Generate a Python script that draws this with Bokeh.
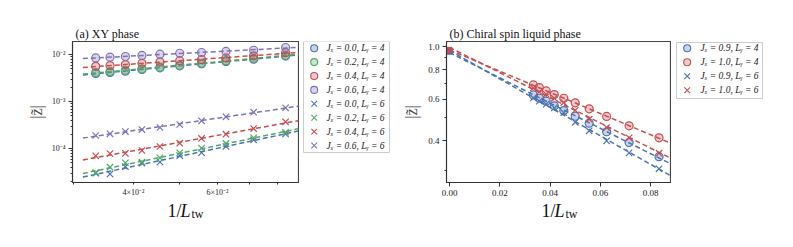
import numpy as np
from bokeh.plotting import figure
from bokeh.models import (Range1d, FixedTicker, CustomJSTickFormatter, NumeralTickFormatter, Label)
from bokeh.core.properties import value
from bokeh.layouts import row, column
from bokeh.embed import file_html
from bokeh.resources import INLINE

# ---------------- data ----------------
L_tw = [30, 28, 26, 24, 22, 20, 18, 16, 14, 12]

# panel (a): XY phase
a_labels = ["Jₓ = 0.0, Lᵧ = 4", "Jₓ = 0.2, Lᵧ = 4", "Jₓ = 0.4, Lᵧ = 4", "Jₓ = 0.6, Lᵧ = 4",
            "Jₓ = 0.0, Lᵧ = 6", "Jₓ = 0.2, Lᵧ = 6", "Jₓ = 0.4, Lᵧ = 6", "Jₓ = 0.6, Lᵧ = 6"]
a_J00_L4 = [0.0040, 0.0042, 0.00448, 0.00487, 0.00528, 0.00583, 0.00644, 0.00720, 0.00805, 0.0094]
a_J02_L4 = [0.0042, 0.0044, 0.0047, 0.0050, 0.00545, 0.0060, 0.0066, 0.0075, 0.0084, 0.0097]
a_J04_L4 = [0.0057, 0.0059, 0.0062, 0.0066, 0.0070, 0.0075, 0.0079, 0.0086, 0.0095, 0.0111]
a_J06_L4 = [0.0086, 0.0089, 0.0092, 0.0097, 0.0103, 0.0108, 0.0112, 0.0118, 0.0125, 0.0143]
a_J00_L6 = [3.03e-5, 2.91e-5, 4.2e-5, 4.94e-5, 5.24e-5, 7.2e-5, 8.3e-5, 1.12e-4, 1.55e-4, 2.07e-4]
a_J02_L6 = [3.13e-5, 4.06e-5, 5.04e-5, 5.19e-5, 6.44e-5, 8.23e-5, 1.03e-4, 1.30e-4, 1.71e-4, 2.25e-4]
a_J04_L6 = [7.1e-5, 7.9e-5, 8.0e-5, 9.2e-5, 1.12e-4, 1.32e-4, 1.66e-4, 2.05e-4, 2.70e-4, 3.75e-4]
a_J06_L6 = [1.92e-4, 2.08e-4, 2.33e-4, 2.57e-4, 2.84e-4, 3.29e-4, 3.94e-4, 4.80e-4, 6.01e-4, 7.45e-4]

# panel (b): chiral spin liquid phase
b_labels = ["Jₓ = 0.9, Lᵧ = 4", "Jₓ = 1.0, Lᵧ = 4", "Jₓ = 0.9, Lᵧ = 6", "Jₓ = 1.0, Lᵧ = 6"]
b_J09_L4 = [0.625, 0.605, 0.588, 0.562, 0.537, 0.508, 0.475, 0.437, 0.394, 0.343]
b_J10_L4 = [0.689, 0.671, 0.650, 0.627, 0.605, 0.579, 0.546, 0.507, 0.463, 0.412]
b_J09_L6 = [0.607, 0.588, 0.571, 0.551, 0.526, 0.479, 0.441, 0.400, 0.356, 0.305]
b_J10_L6 = [0.669, 0.644, 0.629, 0.605, 0.580, 0.538, 0.494, 0.455, 0.412, 0.355]
# extrapolated values at 1/L_tw = 0
b_extrap = [0.955, 0.968, 0.950, 0.965]

BLUE, GREEN, RED, PURPLE = "#4c72b0", "#55a868", "#c44e52", "#8172b2"
SERIF = "Liberation Serif"

inv_L = np.array([1.0 / l for l in L_tw])

SUP_JS = """
const e = Math.round(Math.log10(tick));
const m = {"-":"⁻","0":"⁰","1":"¹","2":"²","3":"³","4":"⁴","5":"⁵","6":"⁶","7":"⁷","8":"⁸","9":"⁹"};
return "10" + String(e).split("").map(c => m[c]).join("");
"""

FRAME_W, FRAME_H = 226, 141
TOP, MAIN_H, STRIP_H = 41, 200, 45
BOTTOM = MAIN_H - TOP - FRAME_H


def style_axes(p, tick_size, ylab_standoff):
    for ax in (p.xaxis[0], p.yaxis[0]):
        ax.axis_line_color = "#333333"
        ax.major_tick_line_color = "#333333"
        ax.minor_tick_line_color = "#333333"
        ax.major_tick_in = 0
        ax.minor_tick_in = 0
        ax.major_tick_out = 4
        ax.minor_tick_out = 2
        ax.major_label_text_font = SERIF
        ax.major_label_text_font_size = tick_size
        ax.major_label_text_color = "#222222"
        ax.major_label_standoff = 3
        ax.axis_label_text_font = SERIF
        ax.axis_label_text_font_style = "normal"
    p.outline_line_color = "#444444"
    p.outline_line_width = 1.2
    p.xgrid.visible = False
    p.ygrid.visible = False
    p.title.text_font = SERIF
    p.title.text_font_size = "12px"
    p.title.text_font_style = "normal"
    p.title.text_color = "#111111"
    p.title.align = "left"
    p.title.offset = 3
    p.title.standoff = 1
    p.yaxis.axis_label = "|z̃|"
    p.yaxis.axis_label_text_font_size = "16px"
    p.yaxis.axis_label_standoff = ylab_standoff


def blank_fig(w, h, xr, yr, left=0, top=0, bottom=0):
    f = figure(width=w, height=h, x_range=xr, y_range=yr,
               x_axis_location=None, y_axis_location=None, output_backend="svg",
               toolbar_location=None, min_border_left=left, min_border_top=top,
               min_border_right=0, min_border_bottom=bottom)
    f.outline_line_color = None
    f.xgrid.visible = False
    f.ygrid.visible = False
    return f


def xlabel_strip(w):
    # frame of this strip is aligned with the frame of the plot above it
    s = blank_fig(w, STRIP_H, Range1d(0, 1), Range1d(0, 1))
    cx = FRAME_W / 2.0
    s.add_layout(Label(x=cx - 4, y=35, x_units="screen", y_units="screen", text="1/",
                       text_font=SERIF, text_font_size="18px", text_align="right",
                       text_baseline="alphabetic", text_color="#111111"))
    s.add_layout(Label(x=cx - 5, y=35, x_units="screen", y_units="screen", text="L",
                       text_font=SERIF, text_font_size="18px", text_font_style="italic",
                       text_align="left", text_baseline="alphabetic", text_color="#111111"))
    s.add_layout(Label(x=cx + 6, y=32, x_units="screen", y_units="screen", text="tw",
                       text_font=SERIF, text_font_size="12px", text_align="left",
                       text_baseline="alphabetic", text_color="#111111"))
    return s


def legend_fig(w, box, first_y, step, key_x, text_x, colors, markers, labels):
    # frame coordinates: x in px from frame left, y in px from frame top
    f = blank_fig(w, MAIN_H, Range1d(0, w), Range1d(FRAME_H, 0), top=TOP, bottom=BOTTOM)
    f.quad(left=[box[0]], right=[box[1]], top=[box[2]], bottom=[box[3]],
           fill_color="white", line_color="#cccccc", line_width=1)
    n = len(labels)
    ys = [first_y + i * step for i in range(n)]
    for yk, c, mk in zip(ys, colors, markers):
        if mk == "circle":
            f.scatter([key_x], [yk], marker="circle", size=7, fill_color=c, fill_alpha=0.3,
                      line_color=c, line_width=1.1)
        else:
            f.scatter([key_x], [yk], marker="x", size=8, line_color=c, line_width=1.1)
    f.text(x=[text_x] * n, y=ys, text=labels, text_font=value(SERIF),
           text_font_size=value("9.5px"), text_font_style="italic",
           text_baseline="middle", text_align="left", text_color="#222222")
    return f


# ---------------- panel (a) ----------------
pa = figure(width=72 + FRAME_W + 1, height=MAIN_H, x_axis_type="log", y_axis_type="log",
            x_range=Range1d(0.0298, 0.0887), y_range=Range1d(1.92e-5, 0.0192),
            output_backend="svg", toolbar_location=None, title="(a) XY phase",
            min_border_left=72, min_border_right=1,
            min_border_top=TOP, min_border_bottom=BOTTOM)
style_axes(pa, "8px", 4)
pa.xaxis.ticker = FixedTicker(ticks=[0.04, 0.06], minor_ticks=[0.03, 0.05, 0.07, 0.08])
pa.xaxis.major_tick_out = 2
pa.xaxis.formatter = CustomJSTickFormatter(code='return Math.round(tick*100) + "×10⁻²";')
pa.yaxis.ticker = FixedTicker(ticks=[1e-4, 1e-3, 1e-2],
                              minor_ticks=[m * 10.0 ** e for e in (-5, -4, -3) for m in range(2, 10)])
pa.yaxis.formatter = CustomJSTickFormatter(code=SUP_JS)

a_series = [a_J00_L4, a_J02_L4, a_J04_L4, a_J06_L4, a_J00_L6, a_J02_L6, a_J04_L6, a_J06_L6]
a_colors = [BLUE, GREEN, RED, PURPLE] * 2
a_markers = ["circle"] * 4 + ["x"] * 4
xf_a = np.array([inv_L.min() * 0.94, inv_L.max() * 1.15])
for ys, c, mk in zip(a_series, a_colors, a_markers):
    ys = np.array(ys)
    k, b = np.polyfit(np.log10(inv_L), np.log10(ys), 1)
    pa.line(xf_a, 10 ** (b + k * np.log10(xf_a)), line_color=c, line_width=1.5, line_dash="5 3")
    if mk == "circle":
        pa.scatter(inv_L, ys, marker="circle", size=8, fill_color=c, fill_alpha=0.3,
                   line_color=c, line_width=1.2)
    else:
        pa.scatter(inv_L, ys, marker="x", size=9, line_color=c, line_width=1.2)

sa = xlabel_strip(72 + FRAME_W + 1)
la = legend_fig(101, (4, 90, 0, 111), 6.7, 13.9, 14.7, 27, a_colors, a_markers, a_labels)

# ---------------- panel (b) ----------------
pb = figure(width=44 + FRAME_W + 1, height=MAIN_H, y_axis_type="log",
            x_range=Range1d(-0.0012, 0.0879), y_range=Range1d(0.267, 1.05),
            output_backend="svg", toolbar_location=None, title="(b) Chiral spin liquid phase",
            min_border_left=44, min_border_right=1,
            min_border_top=TOP, min_border_bottom=BOTTOM)
style_axes(pb, "9px", 5)
pb.xaxis.ticker = FixedTicker(ticks=[0.0, 0.02, 0.04, 0.06, 0.08])
pb.xaxis.formatter = NumeralTickFormatter(format="0.00")
pb.yaxis.ticker = FixedTicker(ticks=[0.4, 0.6, 0.8, 1.0], minor_ticks=[0.3, 0.5, 0.7, 0.9])
pb.yaxis.formatter = NumeralTickFormatter(format="0.0")

b_series = [b_J09_L4, b_J10_L4, b_J09_L6, b_J10_L6]
b_colors = [BLUE, RED, BLUE, RED]
b_markers = ["circle", "circle", "x", "x"]
xf_b = np.array([0.0, inv_L.max() * 1.1])
for ys, e0, c, mk in zip(b_series, b_extrap, b_colors, b_markers):
    xs_fit = np.concatenate([[0.0], inv_L])
    ys_fit = np.concatenate([[e0], ys])
    k, b = np.polyfit(xs_fit, np.log10(ys_fit), 1)
    pb.line(xf_b, 10 ** (b + k * xf_b), line_color=c, line_width=1.5, line_dash="5 3")
    if mk == "circle":
        pb.scatter(inv_L, ys, marker="circle", size=8, fill_color=c, fill_alpha=0.3,
                   line_color=c, line_width=1.2)
    else:
        pb.scatter(inv_L, ys, marker="x", size=9, line_color=c, line_width=1.2)
for e0, c in zip(b_extrap, b_colors):
    pb.scatter([0.0], [e0], marker="square", size=5, fill_color=c, fill_alpha=0.85,
               line_color=c, line_width=0.8)

sb = xlabel_strip(44 + FRAME_W + 1)
lb_w = 793 - 400 - (44 + FRAME_W + 1)
lb = legend_fig(lb_w, (5, 91, 1, 57), 6.8, 14.0, 15.7, 29, b_colors, b_markers, b_labels)

layout = row(column(pa, sa), la, column(pb, sb), lb)
open("out.html", "w").write(file_html(layout, INLINE))
